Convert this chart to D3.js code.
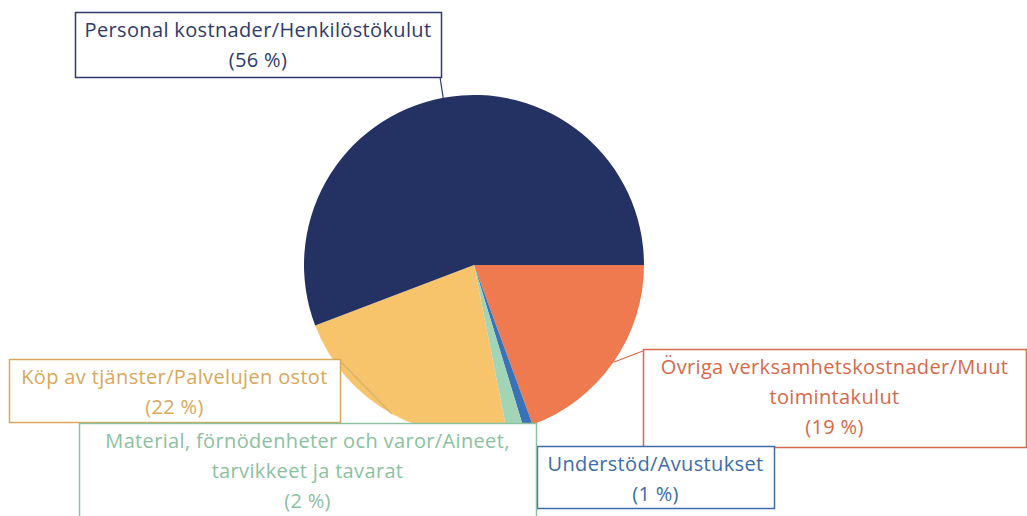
<!DOCTYPE html>
<html>
<head>
<meta charset="utf-8">
<script src="https://cdn.jsdelivr.net/npm/d3@7"></script>
<style>
  body { margin: 0; background: #fff; }
  svg text { font-family: "Open Sans", sans-serif; font-size: 20px; letter-spacing: 0.35px; }
</style>
</head>
<body>
<svg id="chart" width="1027" height="516"></svg>
<script>
// slices in drawing order, clockwise from 3 o'clock
const categories = [
  "Övriga verksamhetskostnader/Muut\ntoimintakulut",
  "Understöd/Avustukset",
  "Material, förnödenheter och varor/Aineet,\ntarvikkeet ja tavarat",
  "Köp av tjänster/Palvelujen ostot",
  "Personal kostnader/Henkilöstökulut"
];
const values = [19.4, 0.9, 1.6, 22.3, 55.8];
const percentLabels = ["(19 %)", "(1 %)", "(2 %)", "(22 %)", "(56 %)"];

const sliceColors = ["#ef7a50", "#3a72b8", "#a2d4b6", "#f7c46b", "#233263"];
const labelColors = ["#d6694b", "#3d6ca8", "#8cc19f", "#d9a85a", "#2e3b6a"];

// label boxes: x, y, w, h and where the leader line meets the box
const boxes = [
  { x: 643, y: 349, w: 383, h: 98, lead: [643, 351] },
  { x: 537, y: 446, w: 237, h: 62, lead: null },
  { x: 79, y: 423, w: 457, h: 100, lead: null },
  { x: 9, y: 359, w: 331, h: 63, lead: [339, 360] },
  { x: 75, y: 12, w: 366, h: 65, lead: [440, 77] }
];
const drawOrder = [4, 0, 1, 3, 2];

const svg = d3.select("#chart");
const cx = 474, cy = 265, r = 170;

const pie = d3.pie().sort(null)
  .startAngle(Math.PI / 2)
  .endAngle(Math.PI / 2 + 2 * Math.PI);
const arcs = pie(values);
const arc = d3.arc().innerRadius(0).outerRadius(r);

const g = svg.append("g").attr("transform", `translate(${cx},${cy})`);
g.selectAll("path.slice")
  .data(arcs)
  .enter()
  .append("path")
  .attr("class", "slice")
  .attr("d", arc)
  .attr("fill", (d, i) => sliceColors[i]);

// leader lines from slice edge (mid-angle) to label box
arcs.forEach((d, i) => {
  const b = boxes[i];
  if (!b.lead) return;
  const a = (d.startAngle + d.endAngle) / 2;
  svg.append("line")
    .attr("x1", cx + r * Math.sin(a))
    .attr("y1", cy - r * Math.cos(a))
    .attr("x2", b.lead[0])
    .attr("y2", b.lead[1])
    .attr("stroke", i === 3 ? "#d8b36a" : labelColors[i])
    .attr("stroke-width", 1.2);
});

drawOrder.forEach(i => {
  const b = boxes[i];
  svg.append("rect")
    .attr("x", b.x + 0.5).attr("y", b.y + 0.5)
    .attr("width", b.w).attr("height", b.h)
    .attr("fill", "#fff")
    .attr("stroke", labelColors[i])
    .attr("stroke-width", 1.5);

  const lines = categories[i].split("\n").concat([percentLabels[i]]);
  const t = svg.append("text")
    .attr("text-anchor", "middle")
    .attr("fill", labelColors[i]);
  lines.forEach((ln, k) => {
    t.append("tspan")
      .attr("x", b.x + b.w / 2)
      .attr("y", b.y + 25 + k * 30)
      .text(ln);
  });
});
</script>
</body>
</html>
